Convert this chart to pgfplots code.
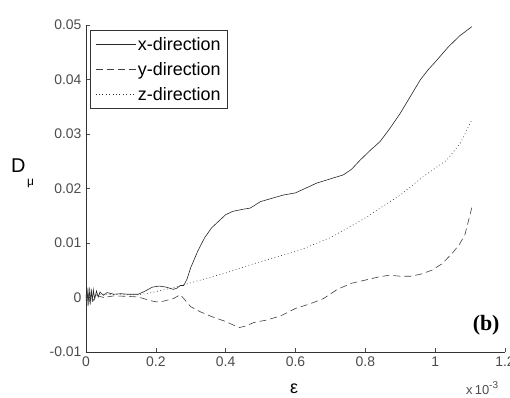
\documentclass[border=0pt]{standalone}
\usepackage{pgfplots}
\pgfplotsset{compat=1.18}
\usepackage{fontspec}
\setmainfont{Liberation Sans}
\newfontfamily\serifb{Liberation Serif}
\begin{document}
\begin{tikzpicture}[x=1bp,y=1bp]
\path[use as bounding box] (-86,-45) rectangle (424,352);
\begin{axis}[
  at={(0,0)}, anchor=south west,
  scale only axis, width=419bp, height=327bp,
  xmin=0, xmax=1.2, ymin=-0.01, ymax=0.05,
  scaled y ticks=false, scaled x ticks=false,
  axis x line*=bottom, axis y line*=left,
  axis line style={-, black!80, line width=0.8pt},
  tick align=inside, major tick length=4bp,
  tick style={black!70, line width=0.6pt},
  xtick={0,0.2,0.4,0.6,0.8,1,1.2},
  ytick={-0.01,0,0.01,0.02,0.03,0.04,0.05},
  xticklabels={0,0.2,0.4,0.6,0.8,1,1.2},
  yticklabels={-0.01,0,0.01,0.02,0.03,0.04,0.05},
  tick label style={font=\fontsize{14}{14}\selectfont, text=black!70},
  xticklabel style={yshift=-1bp},
  yticklabel style={xshift=-1bp},
  legend style={at={(rel axis cs:0.0095,0.985)}, anchor=north west,
     draw=black!80, line width=0.7pt, font=\fontsize{18}{18}\selectfont,
     inner xsep=5bp, inner ysep=5bp, row sep=6.5bp, cells={anchor=west},
     nodes={inner xsep=2bp, inner ysep=2bp}},
  legend cell align=left,
  legend image code/.code={\draw[#1, line width=0.6pt] (0bp,0bp) -- (40bp,0bp);},
  clip=false,
]
\addplot[black!85, line width=0.6pt] coordinates {
(0,0) (0.003,0.0018) (0.006,-0.0016) (0.009,0.0019) (0.012,-0.0013) (0.015,0.0016)
(0.018,-0.0008) (0.021,0.0014) (0.025,-0.0003) (0.03,0.0012) (0.035,0.0001)
(0.04,0.001) (0.05,0.0004) (0.06,0.0009) (0.08,0.0006) (0.1,0.0007) (0.12,0.0006)
(0.15,0.0006) (0.17,0.0012) (0.19,0.0019) (0.21,0.0021) (0.23,0.0019) (0.25,0.0015)
(0.26,0.0017) (0.27,0.0022) (0.28,0.0022) (0.29,0.0035) (0.30,0.0055) (0.32,0.0085)
(0.34,0.011) (0.36,0.0128) (0.38,0.014) (0.40,0.0152) (0.42,0.0158) (0.45,0.0162)
(0.47,0.0164) (0.5,0.0176) (0.565,0.0188) (0.6,0.0192) (0.661,0.021) (0.737,0.0225)
(0.76,0.0235) (0.785,0.0252) (0.814,0.027) (0.842,0.0286) (0.87,0.031) (0.9,0.0338)
(0.93,0.037) (0.957,0.0399) (0.98,0.0418) (1.0,0.0432) (1.038,0.046) (1.07,0.048)
(1.105,0.0497)
};
\addlegendentry{x-direction}
\addplot[black!75, line width=0.6pt, dash pattern=on 7bp off 4bp] coordinates {
(0,-0.0005) (0.005,0.001) (0.01,-0.001) (0.015,0.0008) (0.02,-0.0006) (0.03,0.0004)
(0.05,0) (0.08,0.0003) (0.12,0.0002) (0.15,0.0001) (0.18,-0.0005) (0.2,-0.0008)
(0.22,-0.0007) (0.25,-0.0002) (0.27,0.0005) (0.28,-0.0002) (0.3,-0.0017)
(0.33,-0.0027) (0.36,-0.0035) (0.4,-0.0044) (0.42,-0.005) (0.44,-0.0055)
(0.46,-0.0052) (0.48,-0.0046) (0.52,-0.0041) (0.56,-0.0033) (0.6,-0.002)
(0.64,-0.0012) (0.68,-0.0002) (0.72,0.0015) (0.76,0.0026) (0.8,0.0032)
(0.84,0.0038) (0.87,0.0041) (0.9,0.0039) (0.93,0.0039) (0.96,0.0043) (0.99,0.005)
(1.02,0.0062) (1.05,0.0082) (1.07,0.0098) (1.085,0.0115) (1.095,0.014) (1.105,0.0165)
};
\addlegendentry{y-direction}
\addplot[black!80, line width=0.6pt, dash pattern=on 0.8bp off 2.6bp] coordinates {
(0,0.0003) (0.05,0.0006) (0.1,0.0005) (0.15,0.0005) (0.18,0.0008) (0.25,0.0018)
(0.3,0.0027) (0.4,0.0045) (0.47,0.006) (0.613,0.0087) (0.7,0.011) (0.756,0.013)
(0.8,0.0146) (0.842,0.0164) (0.9,0.0188) (0.966,0.0222) (1.033,0.0252)
(1.072,0.0283) (1.105,0.0326)
};
\addlegendentry{z-direction}
\node[font=\serifb\bfseries\fontsize{22}{22}\selectfont, anchor=center] at (rel axis cs:0.955,0.082) {(b)};
\end{axis}
\node[anchor=base west, font=\fontsize{20}{20}\selectfont, inner sep=0] at (-75,180) {D};
\node[anchor=base west, font=\fontsize{12}{12}\selectfont, inner sep=0] at (-59,167) {μ};
\node[anchor=base, font=\fontsize{18}{18}\selectfont, inner sep=0] at (208,-41) {ε};
\node[anchor=base west, font=\fontsize{13}{13}\selectfont, inner sep=0, text=black!70] at (380,-42) {x\,10\raisebox{6bp}{\fontsize{10}{10}\selectfont -3}};
\end{tikzpicture}
\end{document}
